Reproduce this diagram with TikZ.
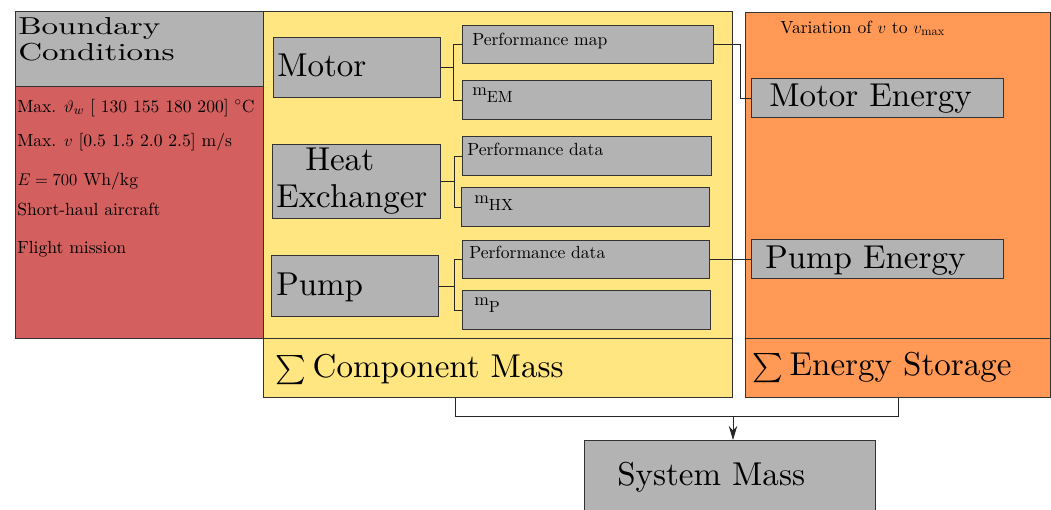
\documentclass[tikz,border=0pt]{standalone}
\usepackage{amsmath}
\usepackage{fontspec}
\setmainfont{lmroman10-regular.otf}[ItalicFont=lmroman10-italic.otf,BoldFont=lmroman10-bold.otf]
\usepackage{graphicx}
\usetikzlibrary{positioning,arrows.meta}
\definecolor{bcred}{HTML}{D35F5F}
\definecolor{compyellow}{HTML}{FFE680}
\definecolor{storeorange}{HTML}{FF9955}
\definecolor{cellgray}{HTML}{B3B3B3}
\tikzset{panel/.style={draw=black!80,line width=0.7pt,inner sep=0pt,anchor=north west}}
\tikzset{cell/.style={panel,fill=cellgray}}
\tikzset{sized/.style 2 args={minimum width=#1*0.025cm,minimum height=#2*0.025cm}}
\tikzset{bigtext/.style={inner sep=0pt,anchor=base west,font=\fontsize{23.5}{26}\selectfont}}
\tikzset{smalltext/.style={inner sep=0pt,anchor=base west,font=\fontsize{12.5}{15}\selectfont}}
\tikzset{headtext/.style={inner sep=0pt,anchor=base west,font=\fontsize{21}{24}\selectfont}}
\tikzset{link/.style={draw=black!85,line width=0.6pt}}
\newcommand{\masssub}[1]{m\raisebox{-5.5pt}{\fontsize{11.5}{13}\selectfont #1}}
\newcommand{\sumsign}{{\fontsize{20}{21}\selectfont$\sum$}\hspace{0.2em}}

\begin{document}
\begin{tikzpicture}[x=0.025cm,y=-0.025cm]
    \useasboundingbox (0,0) rectangle (1051,509);

    % panels
    \node[panel,fill=cellgray,sized={248}{75}] (bchead) at (15,11) {};
    \node[panel,fill=bcred,sized={248}{252}] (bcbody) at (15,86) {};
    \node[panel,fill=compyellow,sized={469}{327}] (comp) at (263,11) {};
    \node[panel,fill=compyellow,sized={469}{59}] (compsum) at (263,338) {};
    \node[panel,fill=storeorange,sized={305}{326}] (store) at (745,12) {};
    \node[panel,fill=storeorange,sized={305}{59}] (storesum) at (745,338) {};

    % components
    \node[cell,sized={167}{60}] (motor) at (273,37) {};
    \node[cell,sized={168}{74}] (hx) at (272,144) {};
    \node[cell,sized={167}{61}] (pump) at (271,255) {};

    \node[cell,sized={251}{38}] (pmap) at (462,25) {};
    \node[cell,sized={249}{39}] (mem) at (462,80) {};
    \node[cell,sized={249}{39}] (hxdata) at (462,136) {};
    \node[cell,sized={248}{39}] (mhx) at (461,187) {};
    \node[cell,sized={247}{38}] (pdata) at (462,240) {};
    \node[cell,sized={248}{39}] (mp) at (462,290) {};

    \node[cell,sized={252}{39}] (emotor) at (751,78) {};
    \node[cell,sized={252}{39}] (epump) at (751,239) {};

    \node[cell,sized={291}{90}] (sysmass) at (584,440) {};

    % texts
    \node[headtext] (bct1) at (18,34) {\scalebox{1.12}[0.83]{Boundary}};
    \node[headtext] (bct2) at (18,60) {\scalebox{1.12}[0.83]{Conditions}};

    \node[smalltext] (bc1) at (17,112) {Max. $\vartheta_w$ [ 130 155 180 200] $^\circ$C};
    \node[smalltext] (bc2) at (17,146) {Max. $v$ [0.5 1.5 2.0 2.5] m/s};
    \node[smalltext] (bc3) at (17,185) {$E = 700$ Wh/kg};
    \node[smalltext] (bc4) at (17,215) {Short-haul aircraft};
    \node[smalltext] (bc5) at (17,253) {Flight mission};

    \node[bigtext] (tmotor) at (277,76) {Motor};
    \node[bigtext] (theat) at (305,170) {Heat};
    \node[bigtext] (texch) at (276,207) {Exchanger};
    \node[bigtext] (tpump) at (276,295) {Pump};

    \node[smalltext] (tpmap) at (472,45) {Performance map};
    \node[smalltext] (tmem) at (472,95) {\masssub{EM}};
    \node[smalltext] (thxdata) at (467,155) {Performance data};
    \node[smalltext] (tmhx) at (474,203) {\masssub{HX}};
    \node[smalltext] (tpdata) at (469,258) {Performance data};
    \node[smalltext] (tmp) at (474,305) {\masssub{P}};

    \node[smalltext] (tvar) at (780,33) {Variation of $v$ to $v_{\max}$};
    \node[bigtext] (temotor) at (769,106) {Motor Energy};
    \node[bigtext] (tepump) at (765,268) {Pump Energy};

    \node[bigtext] (tcompsum) at (275,377) {\sumsign Component Mass};
    \node[bigtext] (tstoresum) at (752,375) {\sumsign Energy Storage};
    \node[bigtext] (tsysmass) at (617,485) {System Mass};

    % connectors
    \path[link] (motor.east) -- ++(12,0) |- (pmap.west);
    \path[link] (motor.east) -- ++(12,0) |- (mem.west);
    \path[link] (hx.east) -- ++(13,0) |- (hxdata.west);
    \path[link] (hx.east) -- ++(13,0) |- (mhx.west);
    \path[link] (pump.east) -- ++(15,0) |- (pdata.west);
    \path[link] (pump.east) -- ++(15,0) |- (mp.west);

    \path[link] (pmap.east) -- ++(26,0) |- (emotor.west);
    \path[link] (pdata.east) -- (pdata.east -| epump.west);

    \coordinate (join) at (733,416);
    \path[link] ([xshift=-42.5*0.025cm]compsum.south) |- (join) -| (storesum.south);
    \path[link,-{Stealth[length=10pt,width=6pt]}] (join) -- (join |- sysmass.north);
\end{tikzpicture}
\end{document}
